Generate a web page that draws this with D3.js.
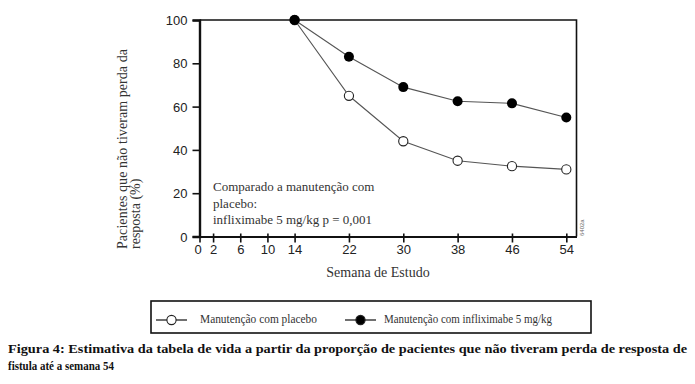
<!DOCTYPE html>
<html>
<head>
<meta charset="utf-8">
<script src="https://cdn.jsdelivr.net/npm/d3@7"></script>
<style>
  html, body { margin: 0; padding: 0; background: #fff; }
  svg { display: block; }
  .tick text { font-family: "Liberation Sans", Arial, sans-serif; font-size: 13px; fill: #222; }
  .serif { font-family: "Liberation Serif", "Times New Roman", serif; fill: #333; }
</style>
</head>
<body>
<svg id="chart" width="695" height="384"></svg>
<script>
// data
var weeks = [14, 22, 30, 38, 46, 54];
var placebo = [100, 65, 44, 35, 32.5, 31];
var infliximab = [100, 83, 69, 62.5, 61.5, 55];
var xTicks = [0, 2, 6, 10, 14, 22, 30, 38, 46, 54];
var yTicks = [0, 20, 40, 60, 80, 100];
var seriesNames = ['Manutenção com placebo', 'Manutenção com infliximabe 5 mg/kg'];

var svg = d3.select('#chart');

var plot = { left: 199.5, right: 576.5, top: 20, bottom: 236.5 };

var x = d3.scaleLinear().domain([0, 55.5]).range([plot.left, plot.right]);
var y = d3.scaleLinear().domain([0, 100]).range([plot.bottom, plot.top]);

// box top + right
svg.append('path')
  .attr('d', 'M' + plot.left + ',' + plot.top + 'H' + plot.right + 'V' + plot.bottom)
  .attr('fill', 'none')
  .attr('stroke', '#111')
  .attr('stroke-width', 1.6);

// y axis
var yAxis = svg.append('g')
  .attr('transform', 'translate(' + plot.left + ',0)')
  .call(d3.axisLeft(y).tickValues(yTicks).tickSize(7).tickPadding(5).tickFormat(d3.format('d')));
yAxis.select('.domain').attr('stroke', '#111').attr('stroke-width', 2.4);
yAxis.selectAll('.tick line').attr('stroke', '#111').attr('stroke-width', 1.6);
yAxis.selectAll('.tick text').attr('dy', '0.36em');

// x axis
var xAxis = svg.append('g')
  .attr('transform', 'translate(0,' + plot.bottom + ')')
  .call(d3.axisBottom(x).tickValues(xTicks).tickSize(6).tickPadding(2).tickSizeOuter(0));
xAxis.select('.domain').attr('stroke', '#111').attr('stroke-width', 2.2);
xAxis.selectAll('.tick line').attr('stroke', '#111').attr('stroke-width', 1.6).attr('y1', -3);
xAxis.selectAll('.tick text').attr('x', function (d) { return d === 0 ? -2 : 0; });

// lines
var line = d3.line()
  .x(function (d) { return x(d.w); })
  .y(function (d) { return y(d.v); });

function toPoints(vals) {
  return weeks.map(function (w, i) { return { w: w, v: vals[i] }; });
}

var placeboPts = toPoints(placebo);
var inflixPts = toPoints(infliximab);

svg.append('path').datum(placeboPts)
  .attr('d', line).attr('fill', 'none').attr('stroke', '#555').attr('stroke-width', 1.1);
svg.append('path').datum(inflixPts)
  .attr('d', line).attr('fill', 'none').attr('stroke', '#555').attr('stroke-width', 1.1);

svg.selectAll('.pl-dot').data(placeboPts).enter().append('circle')
  .attr('class', 'pl-dot')
  .attr('cx', function (d) { return x(d.w); })
  .attr('cy', function (d) { return y(d.v); })
  .attr('r', 4.6)
  .attr('fill', '#fff').attr('stroke', '#222').attr('stroke-width', 1.1);

svg.selectAll('.in-dot').data(inflixPts).enter().append('circle')
  .attr('class', 'in-dot')
  .attr('cx', function (d) { return x(d.w); })
  .attr('cy', function (d) { return y(d.v); })
  .attr('r', 5)
  .attr('fill', '#000');

// annotation inside plot
var note = svg.append('text').attr('class', 'serif').attr('font-size', 13);
['Comparado a manutenção com', 'placebo:', 'infliximabe 5 mg/kg p = 0,001'].forEach(function (t, i) {
  note.append('tspan').attr('x', 213).attr('y', 191 + i * 16.5).text(t);
});

// small figure code
svg.append('text')
  .attr('transform', 'translate(584,236) rotate(-90)')
  .attr('font-family', 'Liberation Sans, Arial, sans-serif')
  .attr('font-size', 6)
  .attr('fill', '#666')
  .text('6402a');

// y label
var yl = svg.append('text').attr('class', 'serif').attr('font-size', 14)
  .attr('transform', 'translate(127,249) rotate(-90)');
yl.append('tspan').attr('x', 0).attr('y', 0).attr('textLength', 200).attr('lengthAdjust', 'spacing')
  .text('Pacientes que não tiveram perda da');
yl.append('tspan').attr('x', 0).attr('y', 13).text('resposta (%)');

// x label
svg.append('text').attr('class', 'serif').attr('font-size', 14)
  .attr('x', 378).attr('y', 277).attr('text-anchor', 'middle')
  .text('Semana de Estudo');

// legend
svg.append('rect')
  .attr('x', 151).attr('y', 301).attr('width', 440).attr('height', 32)
  .attr('fill', 'none').attr('stroke', '#111').attr('stroke-width', 1.6);

var legendItems = [
  { name: seriesNames[0], x: 156, fill: '#fff', textX: 200, len: 117 },
  { name: seriesNames[1], x: 345, fill: '#000', textX: 384, len: 168 }
];
var lg = svg.selectAll('.lg').data(legendItems).enter().append('g').attr('class', 'lg');
lg.append('line')
  .attr('x1', function (d) { return d.x; }).attr('x2', function (d) { return d.x + 31; })
  .attr('y1', 320).attr('y2', 320)
  .attr('stroke', '#222').attr('stroke-width', 1.3);
lg.append('circle')
  .attr('cx', function (d) { return d.x + 15.5; }).attr('cy', 320)
  .attr('r', 4.6)
  .attr('fill', function (d) { return d.fill; })
  .attr('stroke', '#222').attr('stroke-width', 1.1);
lg.append('text').attr('class', 'serif').attr('font-size', 11.5)
  .attr('x', function (d) { return d.textX; }).attr('y', 323)
  .attr('textLength', function (d) { return d.len; }).attr('lengthAdjust', 'spacingAndGlyphs')
  .text(function (d) { return d.name; });

// caption
var cap = svg.append('text')
  .attr('font-family', 'Liberation Serif, Times New Roman, serif')
  .attr('font-weight', 'bold').attr('font-size', 13.5).attr('fill', '#111');
cap.append('tspan').attr('x', 8).attr('y', 353)
  .attr('textLength', 679).attr('lengthAdjust', 'spacingAndGlyphs')
  .text('Figura 4: Estimativa da tabela de vida a partir da proporção de pacientes que não tiveram perda de resposta de');
cap.append('tspan').attr('x', 8).attr('y', 370)
  .attr('textLength', 106).attr('lengthAdjust', 'spacingAndGlyphs')
  .text('fistula até a semana 54');
</script>
</body>
</html>
